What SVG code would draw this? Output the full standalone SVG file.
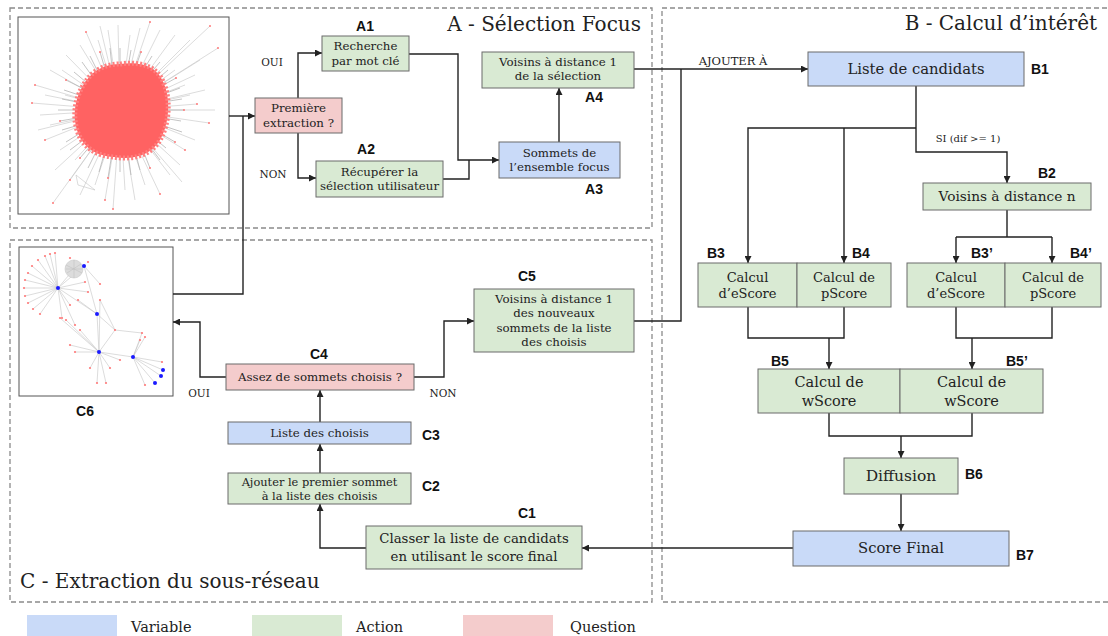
<svg xmlns="http://www.w3.org/2000/svg" width="1108" height="636" viewBox="0 0 1108 636">
<style>
.panel{fill:none;stroke:#8a8a8a;stroke-width:1.3;stroke-dasharray:5 3}
.title{font-family:"DejaVu Serif","Liberation Serif",serif;font-size:20px;fill:#222}
.box{stroke:#6b6b6b;stroke-width:1}
.var{fill:#c9daf8}.act{fill:#d9ead3}.que{fill:#f4cccc}
.t{font-family:"DejaVu Serif","Liberation Serif",serif;font-size:11.8px;fill:#222;text-anchor:middle}
.tm{font-family:"DejaVu Serif","Liberation Serif",serif;font-size:13px;fill:#222;text-anchor:middle}
.tl{font-family:"DejaVu Serif","Liberation Serif",serif;font-size:14.8px;fill:#222;text-anchor:middle}
.lab{font-family:"Liberation Sans",Arial,sans-serif;font-size:14px;font-weight:bold;fill:#111}
.small{font-family:"DejaVu Serif","Liberation Serif",serif;font-size:10.5px;fill:#222;text-anchor:middle}
.leg{font-family:"DejaVu Serif","Liberation Serif",serif;font-size:14.5px;fill:#222}
.c{fill:none;stroke:#222;stroke-width:1.4}
.ca{fill:none;stroke:#222;stroke-width:1.4;marker-end:url(#ah)}
.img{fill:#fff;stroke:#555;stroke-width:1}
.gl{stroke:#c4c4c4;stroke-width:0.6;fill:none}
.gl2{stroke:#b5b5b5;stroke-width:0.8;fill:none}
.rd{fill:#ff7a7a}
.bd{fill:#1a1aff}
</style>
<defs>
<marker id="ah" viewBox="0 0 10 10" refX="10" refY="5" markerWidth="8" markerHeight="7" markerUnits="userSpaceOnUse" orient="auto">
<path d="M0,0 L10,5 L0,10 z" fill="#222"/>
</marker>
</defs>

<!-- panels -->
<g id="panels">
<rect class="panel" x="10" y="8" width="642" height="220"/>
<rect class="panel" x="662" y="8" width="450" height="594"/>
<rect class="panel" x="10" y="240" width="642" height="362"/>
<text class="title" x="641" y="31" text-anchor="end">A - Sélection Focus</text>
<text class="title" x="1097" y="30" text-anchor="end">B - Calcul d’intérêt</text>
<text class="title" x="20" y="588">C - Extraction du sous-réseau</text>
</g>

<!-- big network image -->
<g id="img1">
<rect class="img" x="18" y="17" width="211" height="197"/>
<path class="gl" d="M120,110 L210,26 M120,110 L218,48 M120,110 L200,60 M120,110 L190,40 M120,110 L175,35 M120,110 L160,30 M120,110 L150,22 M120,110 L140,28 M120,110 L130,35 M120,110 L118,25 M120,110 L108,30 M120,110 L98,40 M120,110 L86,32 M120,110 L80,45 M120,110 L66,55 M120,110 L50,70 M120,110 L35,85 M120,110 L45,95 M120,110 L32,103 M120,110 L40,115 M120,110 L50,125 M120,110 L45,140 M120,110 L60,150 M120,110 L55,170 M120,110 L70,180 M120,110 L53,203 M120,110 L80,195 M120,110 L95,185 M120,110 L105,200 M120,110 L113,209 M120,110 L125,190 M120,110 L135,200 M120,110 L145,185 M120,110 L160,194 M120,110 L170,175 M120,110 L180,165 M120,110 L185,150 M120,110 L195,140 M120,110 L209,123 M120,110 L197,104 M120,110 L190,95 M120,110 L185,85 M120,110 L195,75 M120,110 L175,70 M120,110 L205,90 M120,110 L215,110 M120,110 L65,95 M120,110 L75,160 M120,110 L62,70 M120,110 L100,26 M120,110 L182,182 M120,110 L38,130 M76,175 L95,190 L78,185 Z"/>
<path class="gl2" d="M164,110 L184,110 M163,118 L181,121 M161,125 L182,132 M158,132 L175,142 M154,138 L166,148 M148,144 L160,160 M142,148 L150,168 M135,151 L140,170 M128,153 L131,175 M120,154 L120,172 M112,153 L108,178 M105,151 L99,172 M98,148 L88,168 M92,144 L80,158 M86,138 L70,150 M82,132 L66,142 M79,125 L62,130 M77,118 L60,121 M76,110 L58,110 M77,102 L62,99 M79,95 L64,90 M82,88 L66,80 M86,82 L74,72 M92,76 L82,62 M98,72 L90,56 M105,69 L100,52 M112,67 L110,48 M120,66 L120,48 M128,67 L131,50 M135,69 L141,52 M142,72 L152,56 M148,76 L160,62 M154,82 L168,70 M158,88 L176,78 M161,95 L180,88 M163,102 L182,99"/>
<path d="M120,64 C140,61 158,66 164,84 C171,100 169,125 160,140 C150,157 130,160 114,157 C95,156 80,146 76,126 C72,108 78,88 92,74 C100,67 110,64 120,64 Z" fill="#ff6262" stroke="#ff7f7f" stroke-width="5" stroke-dasharray="2 2"/>
<g class="rd">
<circle cx="210" cy="26" r="1"/><circle cx="218" cy="48" r="1"/><circle cx="35" cy="85" r="1"/><circle cx="32" cy="103" r="1"/><circle cx="53" cy="203" r="1"/><circle cx="113" cy="209" r="1"/><circle cx="160" cy="194" r="1"/><circle cx="209" cy="123" r="1"/><circle cx="197" cy="104" r="1"/><circle cx="86" cy="32" r="1"/><circle cx="150" cy="22" r="1"/><circle cx="105" cy="200" r="1"/><circle cx="70" cy="180" r="1"/><circle cx="185" cy="150" r="1"/><circle cx="45" cy="140" r="1"/>
<circle cx="184" cy="110" r="1"/><circle cx="175" cy="142" r="1"/><circle cx="150" cy="168" r="1"/><circle cx="108" cy="178" r="1"/><circle cx="80" cy="158" r="1"/><circle cx="60" cy="121" r="1"/><circle cx="66" cy="80" r="1"/><circle cx="100" cy="52" r="1"/><circle cx="141" cy="52" r="1"/><circle cx="176" cy="78" r="1"/>
</g>
</g>

<!-- small network image C6 -->
<g id="C6">
<rect class="img" x="19" y="247" width="154" height="149"/>
<path class="gl" d="M58,288 L45,256 M58,288 L38,260 M58,288 L32,266 M58,288 L28,273 M58,288 L25,280 M58,288 L24,288 M58,288 L25,296 M58,288 L28,303 M58,288 L33,309 M58,288 L40,314 M58,288 L50,254 M58,288 L55,253 M58,288 L74,269 M58,288 L84,266 M58,288 L88,292 M58,288 L97,314 M58,288 L70,305 M58,288 L62,318 M58,288 L75,325 M58,288 L85,282 M84,266 L100,284 M84,266 L97,314 M97,314 L99,352 M97,314 L115,330 M99,352 L133,357 M99,352 L70,345 M99,352 L75,352 M99,352 L90,368 M99,352 L97,383 M99,352 L106,383 M99,352 L110,368 M99,352 L120,360 M99,352 L115,330 M99,352 L80,330 M99,352 L66,320 M99,352 L60,318 M133,357 L142,333 M133,357 L145,337 M133,357 L140,340 M133,357 L163,370 M133,357 L161,376 M133,357 L155,383 M133,357 L145,385 M133,357 L162,362 M115,330 L142,333 M100,300 L115,330 M97,314 L78,300 M99,352 L100,300"/>
<circle cx="74" cy="269" r="9" fill="#dcdcdc" stroke="#c8c8c8" stroke-width="0.6"/>
<path d="M66,265 L82,273 M67,273 L81,264 M74,260 L74,278 M66,269 L82,269" stroke="#bdbdbd" stroke-width="0.5"/>
<g class="rd">
<circle cx="45" cy="256" r="1.1"/><circle cx="38" cy="260" r="1.1"/><circle cx="32" cy="266" r="1.1"/><circle cx="28" cy="273" r="1.1"/><circle cx="25" cy="280" r="1.1"/><circle cx="24" cy="288" r="1.1"/><circle cx="25" cy="296" r="1.1"/><circle cx="28" cy="303" r="1.1"/><circle cx="33" cy="309" r="1.1"/><circle cx="40" cy="314" r="1.1"/><circle cx="50" cy="254" r="1.1"/><circle cx="55" cy="253" r="1.1"/><circle cx="85" cy="282" r="1.1"/><circle cx="88" cy="292" r="1.1"/><circle cx="70" cy="305" r="1.1"/><circle cx="62" cy="318" r="1.1"/><circle cx="75" cy="325" r="1.1"/><circle cx="100" cy="284" r="1.1"/><circle cx="100" cy="300" r="1.1"/><circle cx="78" cy="300" r="1.1"/><circle cx="115" cy="330" r="1.1"/><circle cx="70" cy="345" r="1.1"/><circle cx="75" cy="352" r="1.1"/><circle cx="90" cy="368" r="1.1"/><circle cx="97" cy="383" r="1.1"/><circle cx="106" cy="383" r="1.1"/><circle cx="110" cy="368" r="1.1"/><circle cx="120" cy="360" r="1.1"/><circle cx="80" cy="330" r="1.1"/><circle cx="66" cy="320" r="1.1"/><circle cx="60" cy="318" r="1.1"/><circle cx="142" cy="333" r="1.1"/><circle cx="145" cy="337" r="1.1"/><circle cx="140" cy="340" r="1.1"/><circle cx="145" cy="385" r="1.1"/><circle cx="162" cy="362" r="1.1"/><circle cx="88" cy="262" r="1.1"/><circle cx="70" cy="258" r="1.1"/>
</g>
<g class="bd">
<circle cx="84" cy="266" r="2"/><circle cx="58" cy="288" r="2"/><circle cx="97" cy="314" r="2"/><circle cx="99" cy="352" r="2"/><circle cx="133" cy="357" r="2"/><circle cx="163" cy="370" r="2"/><circle cx="161" cy="376" r="2"/><circle cx="155" cy="383" r="2"/>
</g>
<text class="lab" x="85" y="416" text-anchor="middle">C6</text>
</g>

<!-- connectors -->
<g id="connectors">
<path class="ca" d="M229,116 L255,116"/>
<path class="c" d="M173,294 L243,294 L243,116"/>
<path class="ca" d="M298,98 L298,53 L322,53"/>
<path class="ca" d="M298,133 L298,178 L316,178"/>
<path class="ca" d="M409,54 L458,54 L458,160 L499,160"/>
<path class="c" d="M443,179 L469,179 L469,160"/>
<path class="ca" d="M559,142 L559,88"/>
<path class="ca" d="M634,69 L808,69"/>
<path class="c" d="M634,321 L681,321 L681,69"/>
<path class="ca" d="M916,86 L916,152 L1007,152 L1007,183"/>
<path class="ca" d="M916,128 L748,128 L748,263"/>
<path class="ca" d="M844,128 L844,263"/>
<path class="c" d="M1007,210 L1007,237 M956,237 L1052,237"/>
<path class="ca" d="M956,237 L956,263"/>
<path class="ca" d="M1052,237 L1052,263"/>
<path class="c" d="M748,307 L748,338 L844,338 L844,307"/>
<path class="ca" d="M829,338 L829,369"/>
<path class="c" d="M956,307 L956,338 L1052,338 L1052,307"/>
<path class="ca" d="M972,338 L972,369"/>
<path class="c" d="M829,413 L829,436 L972,436 L972,413"/>
<path class="ca" d="M901,436 L901,458"/>
<path class="ca" d="M901,494 L901,531"/>
<path class="ca" d="M793,548 L582,548"/>
<path class="ca" d="M366,548 L320,548 L320,504"/>
<path class="ca" d="M320,473 L320,444"/>
<path class="ca" d="M320,422 L320,390"/>
<path class="ca" d="M226,377 L200,377 L200,322 L173,322"/>
<path class="ca" d="M414,377 L444,377 L444,321 L474,321"/>
<text class="small" x="272" y="66">OUI</text>
<text class="small" x="273" y="178">NON</text>
<text class="small" x="733" y="65" style="font-size:11.5px">AJOUTER À</text>
<text class="small" x="968" y="142" style="font-size:10px">SI (dif &gt;= 1)</text>
<text class="small" x="199" y="397">OUI</text>
<text class="small" x="443" y="397">NON</text>
</g>

<!-- A nodes -->
<g id="A0">
<rect class="box que" x="255" y="98" width="87" height="35"/>
<text class="t" x="298.5" y="112">Première</text>
<text class="t" x="298.5" y="127">extraction ?</text>
</g>
<g id="A1">
<rect class="box act" x="322" y="36" width="87" height="35"/>
<text class="t" x="365.5" y="50">Recherche</text>
<text class="t" x="365.5" y="65">par mot clé</text>
<text class="lab" x="365" y="31" text-anchor="middle">A1</text>
</g>
<g id="A2">
<rect class="box act" x="316" y="161" width="127" height="36"/>
<text class="t" x="379.5" y="176">Récupérer la</text>
<text class="t" x="379.5" y="190">sélection utilisateur</text>
<text class="lab" x="366" y="154" text-anchor="middle">A2</text>
</g>
<g id="A3">
<rect class="box var" x="499" y="142" width="121" height="36"/>
<text class="t" x="559.5" y="157">Sommets de</text>
<text class="t" x="559.5" y="171">l’ensemble focus</text>
<text class="lab" x="594" y="194" text-anchor="middle">A3</text>
</g>
<g id="A4">
<rect class="box act" x="482" y="52" width="152" height="36"/>
<text class="t" x="558" y="66">Voisins à distance 1</text>
<text class="t" x="558" y="80">de la sélection</text>
<text class="lab" x="594" y="102" text-anchor="middle">A4</text>
</g>

<!-- B nodes -->
<g id="B1">
<rect class="box var" x="808" y="52" width="216" height="34"/>
<text class="tl" x="916" y="74">Liste de candidats</text>
<text class="lab" x="1031" y="74">B1</text>
</g>
<g id="B2">
<rect class="box act" x="923" y="183" width="168" height="27"/>
<text class="tm" x="1007" y="201" style="font-size:13.7px">Voisins à distance n</text>
<text class="lab" x="1038" y="178">B2</text>
</g>
<g id="B3">
<rect class="box act" x="698" y="263" width="99" height="44"/>
<text class="tm" x="747.5" y="282">Calcul</text>
<text class="tm" x="747.5" y="298">d’eScore</text>
<text class="lab" x="707" y="258">B3</text>
</g>
<g id="B4">
<rect class="box act" x="797" y="263" width="94" height="44"/>
<text class="tm" x="844" y="282">Calcul de</text>
<text class="tm" x="844" y="298">pScore</text>
<text class="lab" x="852" y="258">B4</text>
</g>
<g id="B3p">
<rect class="box act" x="907" y="263" width="98" height="44"/>
<text class="tm" x="956" y="282">Calcul</text>
<text class="tm" x="956" y="298">d’eScore</text>
<text class="lab" x="971" y="258">B3’</text>
</g>
<g id="B4p">
<rect class="box act" x="1005" y="263" width="96" height="44"/>
<text class="tm" x="1053" y="282">Calcul de</text>
<text class="tm" x="1053" y="298">pScore</text>
<text class="lab" x="1070" y="258">B4’</text>
</g>
<g id="B5">
<rect class="box act" x="758" y="369" width="142" height="44"/>
<text class="tl" x="829" y="387" style="font-size:14.5px">Calcul de</text>
<text class="tl" x="829" y="406" style="font-size:14.5px">wScore</text>
<text class="lab" x="771" y="366">B5</text>
</g>
<g id="B5p">
<rect class="box act" x="900" y="369" width="143" height="44"/>
<text class="tl" x="971.5" y="387" style="font-size:14.5px">Calcul de</text>
<text class="tl" x="971.5" y="406" style="font-size:14.5px">wScore</text>
<text class="lab" x="1006" y="366">B5’</text>
</g>
<g id="B6">
<rect class="box act" x="844" y="458" width="114" height="36"/>
<text class="tl" x="901" y="481" style="font-size:15.5px">Diffusion</text>
<text class="lab" x="965" y="479">B6</text>
</g>
<g id="B7">
<rect class="box var" x="793" y="531" width="216" height="35"/>
<text class="tl" x="901" y="553">Score Final</text>
<text class="lab" x="1016" y="560">B7</text>
</g>

<!-- C nodes -->
<g id="C1">
<rect class="box act" x="366" y="526" width="216" height="43"/>
<text class="tm" x="474" y="543" style="font-size:13.3px">Classer la liste de candidats</text>
<text class="tm" x="474" y="561" style="font-size:13.3px">en utilisant le score final</text>
<text class="lab" x="518" y="518">C1</text>
</g>
<g id="C2">
<rect class="box act" x="228" y="473" width="183" height="31"/>
<text class="t" x="319.5" y="486" style="font-size:11.4px">Ajouter le premier sommet</text>
<text class="t" x="319.5" y="500" style="font-size:11.4px">à la liste des choisis</text>
<text class="lab" x="422" y="491">C2</text>
</g>
<g id="C3">
<rect class="box var" x="228" y="422" width="183" height="22"/>
<text class="t" x="319.5" y="437">Liste des choisis</text>
<text class="lab" x="422" y="440">C3</text>
</g>
<g id="C4">
<rect class="box que" x="226" y="364" width="188" height="26"/>
<text class="t" x="320" y="381">Assez de sommets choisis ?</text>
<text class="lab" x="310" y="359">C4</text>
</g>
<g id="C5">
<rect class="box act" x="474" y="289" width="160" height="63"/>
<text class="t" x="554" y="303">Voisins à distance 1</text>
<text class="t" x="554" y="317">des nouveaux</text>
<text class="t" x="554" y="332">sommets de la liste</text>
<text class="t" x="554" y="346">des choisis</text>
<text class="lab" x="518" y="281">C5</text>
</g>

<!-- legend -->
<g id="legend">
<rect class="var" x="27" y="615" width="90" height="22"/>
<text class="leg" x="131" y="632">Variable</text>
<rect class="act" x="252" y="615" width="90" height="22"/>
<text class="leg" x="356" y="632">Action</text>
<rect class="que" x="463" y="615" width="90" height="22"/>
<text class="leg" x="570" y="632">Question</text>
</g>
</svg>
